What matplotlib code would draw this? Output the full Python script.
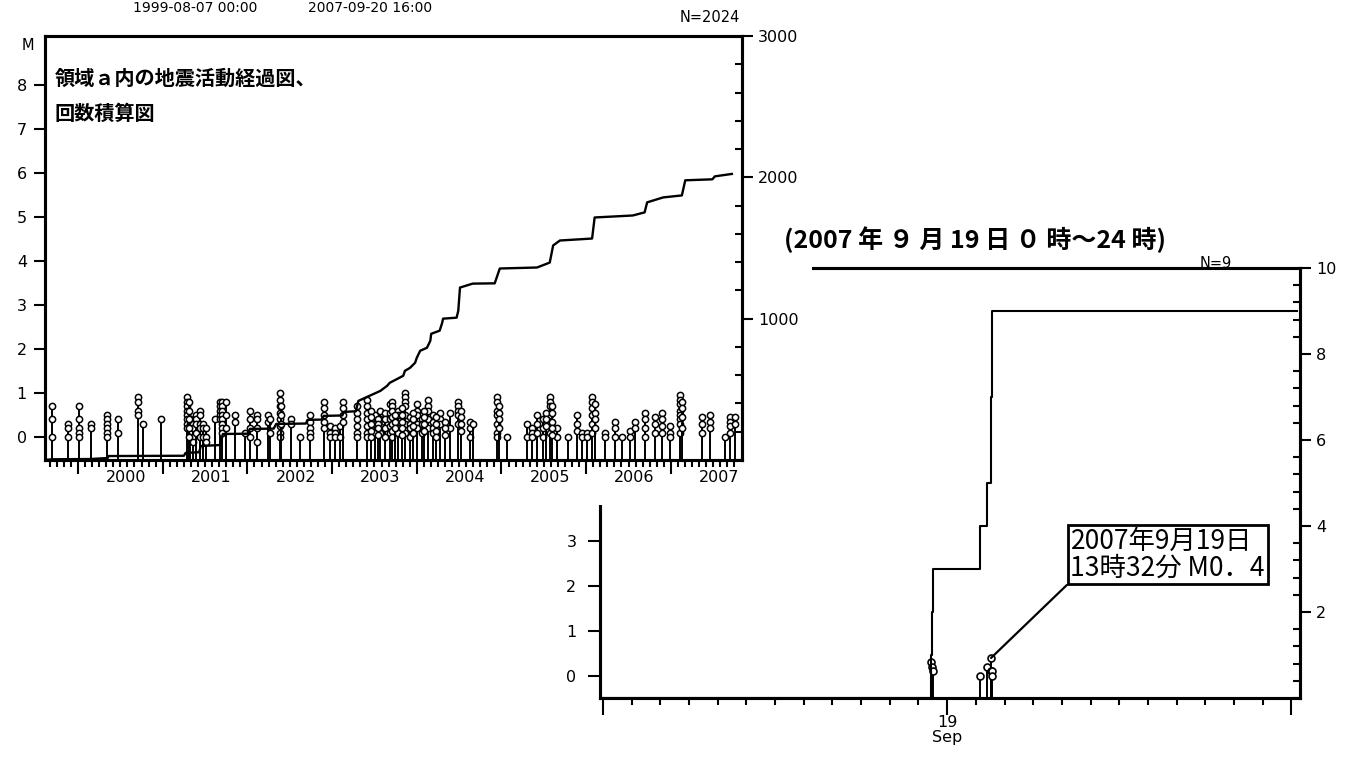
import numpy as np
import matplotlib.pyplot as plt
from matplotlib.ticker import MultipleLocator, FixedLocator, NullFormatter
from matplotlib.patches import Rectangle

plt.rcParams['font.family'] = ['DejaVu Sans', 'Noto Sans CJK JP']
jp = ['Noto Sans CJK JP', 'DejaVu Sans']

# --- left panel : 1999-08 .. 2007-09, events grouped by time (decimal year)
grp_year = [1999.69, 1999.88, 2000.01, 2000.15, 2000.34, 2000.47, 2000.71, 2000.77,
            2000.98, 2001.29, 2001.32, 2001.36, 2001.39, 2001.44, 2001.48, 2001.51,
            2001.62, 2001.68, 2001.70, 2001.75, 2001.85, 2001.97, 2002.03, 2002.11,
            2002.24, 2002.27, 2002.38, 2002.51, 2002.62, 2002.74, 2002.90, 2002.98,
            2003.03, 2003.09, 2003.13, 2003.29, 2003.41, 2003.51, 2003.57, 2003.62,
            2003.68, 2003.71, 2003.78, 2003.86, 2003.92, 2004.00, 2004.06, 2004.13,
            2004.19, 2004.27, 2004.39, 2004.49, 2004.63, 2004.66, 2004.95, 2005.06,
            2005.30, 2005.36, 2005.42, 2005.49, 2005.57, 2005.66, 2005.79, 2005.89,
            2005.95, 2006.01, 2006.07, 2006.22, 2006.34, 2006.42, 2006.52, 2006.58,
            2006.69, 2006.81, 2006.90, 2006.99, 2007.11, 2007.37, 2007.46, 2007.64,
            2007.70, 2007.76,
            2003.46, 2003.54, 2003.74, 2003.82, 2003.96, 2004.09, 2004.23, 2004.33,
            2004.52, 2004.97, 2005.52, 2005.60, 2006.10, 2007.13, 2002.40, 2001.31]
grp_mag = [[0.7, 0.4, 0.0], [0.3, 0.2, 0.0], [0.7, 0.4, 0.2, 0.1, 0.0], [0.3, 0.2],
           [0.5, 0.4, 0.3, 0.2, 0.1, 0.0], [0.4, 0.1], [0.9, 0.8, 0.6, 0.5], [0.3],
           [0.4], [0.9, 0.8, 0.7, 0.6, 0.5, 0.4, 0.3, 0.2], [0.4, 0.3, 0.1, 0.0],
           [0.3, 0.2, 0.0, -0.1], [0.5, 0.4, 0.3, 0.1], [0.6, 0.5, 0.3, 0.2, 0.0],
           [0.3, 0.2, 0.0], [0.2, 0.0, -0.1],
           [0.4], [0.8, 0.7, 0.6, 0.5, 0.4], [0.8, 0.7, 0.6, 0.5, 0.4, 0.3, 0.2, 0.1],
           [0.8, 0.5, 0.2], [0.5, 0.35], [0.1], [0.6, 0.4, 0.2, 0.0], [0.5, 0.4, 0.2, -0.1],
           [0.5, 0.35], [0.4, 0.1], [1.0, 0.85, 0.7, 0.55, 0.4, 0.25, 0.1, 0.0], [0.4, 0.3],
           [0.0], [0.5, 0.35, 0.2, 0.1, 0.0], [0.8, 0.65, 0.5, 0.35, 0.2], [0.25, 0.1, 0.0],
           [0.2, 0.1, 0.0], [0.25, 0.0], [0.8, 0.65, 0.5, 0.35], [0.7, 0.55, 0.4, 0.25, 0.1, 0.0],
           [0.85, 0.7, 0.55, 0.4, 0.25, 0.1, 0.0], [0.5, 0.3, 0.1], [0.6, 0.4, 0.25, 0.1],
           [0.55, 0.4, 0.2, 0.0],
           [0.75, 0.55, 0.4, 0.25, 0.1], [0.8, 0.7, 0.6, 0.45, 0.3, 0.15, 0.0],
           [0.6, 0.5, 0.3, 0.2, 0.1], [1.0, 0.9, 0.8, 0.7, 0.5, 0.3, 0.1], [0.45, 0.3, 0.2, 0.0],
           [0.75, 0.6, 0.5, 0.3, 0.2], [0.4, 0.3, 0.1], [0.85, 0.7, 0.6, 0.4, 0.2],
           [0.5, 0.35, 0.2, 0.1], [0.55, 0.4, 0.3], [0.55, 0.2], [0.8, 0.7, 0.6, 0.5, 0.3],
           [0.35, 0.2, 0.0], [0.3], [0.9, 0.8, 0.6, 0.5, 0.3, 0.1, 0.0], [0.0],
           [0.3, 0.0], [0.2, 0.1, 0.0], [0.5, 0.3, 0.1], [0.4, 0.2, 0.0],
           [0.9, 0.8, 0.7, 0.5, 0.3, 0.1], [0.2, 0.0], [0.0], [0.5, 0.3, 0.15],
           [0.1, 0.0], [0.1, 0.0], [0.9, 0.8, 0.65, 0.5, 0.3, 0.1], [0.1, 0.0],
           [0.35, 0.2, 0.0], [0.0], [0.15, 0.0], [0.35, 0.2],
           [0.55, 0.4, 0.2, 0.0], [0.45, 0.3, 0.1], [0.55, 0.4, 0.25, 0.1], [0.25, 0.1, 0.0],
           [0.95, 0.85, 0.75, 0.6, 0.5, 0.4, 0.3, 0.1], [0.45, 0.3, 0.1], [0.5, 0.35, 0.2],
           [0.0], [0.45, 0.35, 0.25, 0.1], [0.45, 0.3],
           [0.6, 0.45, 0.3, 0.15, 0.0], [0.4, 0.3, 0.2, 0.05], [0.5, 0.35, 0.2],
           [0.65, 0.5, 0.35, 0.2, 0.05], [0.55, 0.4, 0.25, 0.1], [0.6, 0.45, 0.3, 0.15],
           [0.45, 0.3, 0.15, 0.0], [0.35, 0.2, 0.05], [0.6, 0.45, 0.3, 0.15],
           [0.7, 0.55, 0.4, 0.2], [0.55, 0.4, 0.25], [0.7, 0.55, 0.35, 0.2, 0.05],
           [0.75, 0.55, 0.4, 0.2], [0.8, 0.65, 0.45, 0.2], [0.7, 0.5, 0.3],
           [0.8, 0.6, 0.4, 0.2, 0.0]]

# cumulative count
cum_year = [1999.60, 1999.70, 2000.15, 2000.35, 2000.36, 2001.25, 2001.27, 2001.43, 2001.45,
            2001.68, 2001.71, 2002.00, 2002.03, 2002.31, 2002.34, 2002.69, 2002.71, 2002.88,
            2002.90, 2003.12, 2003.14, 2003.28, 2003.31, 2003.39, 2003.57, 2003.65, 2003.68,
            2003.77, 2003.84, 2003.86, 2003.92, 2003.98, 2004.00, 2004.04, 2004.12, 2004.16,
            2004.17, 2004.27, 2004.30, 2004.31, 2004.47, 2004.49, 2004.51, 2004.66, 2004.92,
            2004.98, 2005.42, 2005.57, 2005.61, 2005.69, 2006.07, 2006.10, 2006.55, 2006.69,
            2006.72, 2006.91, 2007.13, 2007.17, 2007.49, 2007.52, 2007.72]
cum_n = [0, 5, 7, 14, 28, 30, 50, 55, 99,
         106, 184, 186, 220, 222, 255, 258, 284, 286,
         312, 315, 340, 345, 418, 440, 489, 525, 546,
         574, 596, 631, 652, 688, 723, 773, 794, 844,
         893, 915, 971, 1000, 1007, 1056, 1220, 1248, 1250,
         1355, 1362, 1397, 1518, 1553, 1567, 1716, 1730, 1752,
         1823, 1858, 1872, 1979, 1986, 2007, 2024]
year_labels = ['2000', '2001', '2002', '2003', '2004', '2005', '2006', '2007']

# --- right panel : 2007-09-19 0h..24h
day_hour = [11.45, 11.47, 11.49, 13.15, 13.38, 13.53, 13.54, 13.55, 13.56]
day_mag = [0.3, 0.2, 0.1, 0.0, 0.2, 0.4, 0.1, 0.1, 0.0]

W, H = 1364, 759
def box(x0, y0, x1, y1):
    return [x0/W, 1-y1/H, (x1-x0)/W, (y1-y0)/H]

fig = plt.figure(figsize=(W/100, H/100), dpi=100)

# right panel first (partly hidden behind left panel)
ax2 = fig.add_axes(box(600, 268, 1300, 698))
ax2.set_zorder(0)
ax2r = ax2.twinx()
ax2r.set_zorder(0.5)
ax2r.patch.set_visible(False)
ax2.set_xlim(-0.1, 24.3)
ax2.set_ylim(-0.49, 9.07)
ax2r.set_ylim(0, 10)
ax2.vlines(day_hour, -0.49, day_mag, color='k', lw=1.4)
ax2.plot(day_hour, day_mag, 'o', mfc='white', mec='k', ms=5, mew=1.2)
cnt = np.arange(1, len(day_hour)+1)
ax2r.step(np.r_[-0.1, day_hour, 24.2], np.r_[0, cnt, cnt[-1]], where='post', color='k', lw=1.5)
for sp in list(ax2.spines.values()) + list(ax2r.spines.values()):
    sp.set_linewidth(2.2)
ax2.set_yticks([0, 1, 2, 3, 4, 5, 6, 7, 8, 9])
ax2.tick_params(axis='y', direction='out', length=9, width=1.5, labelsize=11.5, pad=8)
ax2.xaxis.set_major_locator(FixedLocator([0, 12, 24]))
ax2.set_xticklabels(['', '19\nSep', ''])
for lb in ax2.get_xticklabels():
    lb.set_linespacing(1.05)
ax2.xaxis.set_minor_locator(MultipleLocator(1))
ax2.tick_params(axis='x', which='major', direction='out', length=12, width=1.5, labelsize=11.5, pad=0)
ax2.tick_params(axis='x', which='minor', direction='out', length=5, width=1.5)
ax2r.set_yticks([2, 4, 6, 8, 10])
ax2r.yaxis.set_minor_locator(MultipleLocator(0.4))
ax2r.tick_params(axis='y', which='major', direction='out', length=8, width=1.5, labelsize=11.5)
ax2r.tick_params(axis='y', which='minor', direction='in', length=5, width=1.5)
ax2.annotate('2007年9月19日\n13時32分 M0．4', xy=(13.53, 0.4), xytext=(16.3, 2.1),
             ha='left', va='bottom', fontsize=19, family=jp, linespacing=1.0, zorder=5,
             bbox=dict(boxstyle='square,pad=0.1', fc='white', ec='k', lw=2),
             arrowprops=dict(arrowstyle='-', lw=1.6, color='k', shrinkA=0, shrinkB=0,
                             relpos=(0, 0)))

# white mask so the left panel covers the right one
fig.add_artist(Rectangle((0, 1-505/H), 812/W, 505/H, transform=fig.transFigure,
                         fc='white', ec='none', zorder=1))

# left panel
ax1 = fig.add_axes(box(45, 36, 742, 460))
ax1.set_zorder(2)
ax1r = ax1.twinx()
ax1r.set_zorder(3)
ax1r.patch.set_visible(False)
ax1.set_xlim(1999.61, 2007.84)
ax1.set_ylim(-0.52, 9.11)
ax1r.set_ylim(0, 3000)
for t, m in zip(grp_year, grp_mag):
    ax1.vlines(t, -0.52, max(m), color='k', lw=1.4)
    ax1.plot([t]*len(m), m, 'o', mfc='white', mec='k', ms=4.5, mew=1.1)
ax1r.plot(cum_year, cum_n, color='k', lw=1.7)
for sp in list(ax1.spines.values()) + list(ax1r.spines.values()):
    sp.set_linewidth(2.2)
ax1.set_yticks(range(9))
ax1.tick_params(axis='y', direction='out', length=8, width=1.5, labelsize=11.5, pad=5)
ax1.set_xticks(range(2000, 2008))
ax1.xaxis.set_major_formatter(NullFormatter())
ax1.set_xticks([1999 + k/12 for k in range(8, 106)], minor=True)
ax1.tick_params(axis='x', which='major', direction='out', length=10, width=1.5)
ax1.tick_params(axis='x', which='minor', direction='out', length=5, width=1.5)
sec = ax1.secondary_xaxis('bottom')
sec.set_xticks([y + 0.57 for y in range(2000, 2008)], year_labels)
sec.tick_params(length=0, pad=7, labelsize=11.5)
sec.spines['bottom'].set_visible(False)
ax1r.set_yticks([1000, 2000, 3000])
ax1r.yaxis.set_minor_locator(MultipleLocator(200))
ax1r.tick_params(axis='y', which='major', direction='out', length=8, width=1.5, labelsize=11.5)
ax1r.tick_params(axis='y', which='minor', direction='in', length=5, width=1.5)
ax1.text(0.014, 0.925, '領域ａ内の地震活動経過図、\n回数積算図', transform=ax1.transAxes,
         ha='left', va='top', fontsize=14.5, fontweight='bold', family=jp, linespacing=1.85)

# loose texts
fig.text(28/W, 1-45/H, 'M', ha='center', va='center', fontsize=10.5)
fig.text(740/W, 1-18/H, 'N=2024', ha='right', va='center', fontsize=10.5)
fig.text(195/W, 1-1/H, '1999-08-07 00:00', ha='center', va='top', fontsize=10)
fig.text(370/W, 1-1/H, '2007-09-20 16:00', ha='center', va='top', fontsize=10)
fig.text(975/W, 1-240/H, '(2007 年 ９ 月 19 日 ０ 時～24 時)', ha='center', va='center',
         fontsize=18, fontweight='bold', family=jp, zorder=5)
fig.text(1232/W, 1-264/H, 'N=9', ha='right', va='center', fontsize=10.5)

fig.savefig('out.png', dpi=100)
